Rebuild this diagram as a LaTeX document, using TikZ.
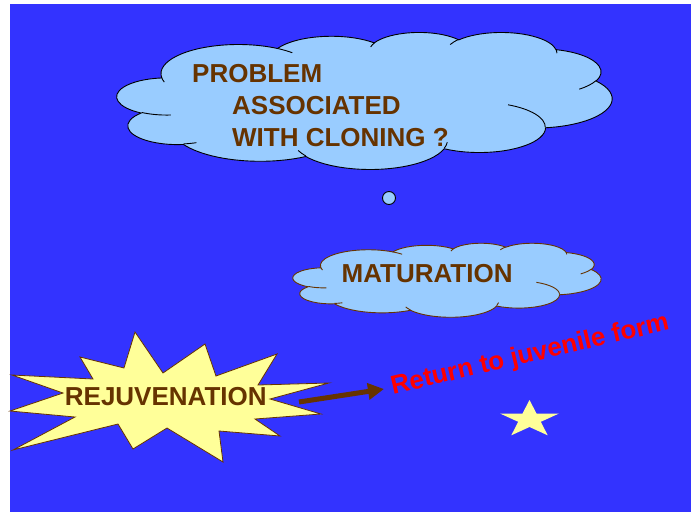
\documentclass[tikz,border=0pt]{standalone}
\usepackage{fontspec}
\setmainfont{Liberation Sans}
\usetikzlibrary{arrows.meta}

\definecolor{slideblue}{HTML}{3333FF}
\definecolor{cloudblue}{HTML}{99CCFF}
\definecolor{bark}{HTML}{663300}
\definecolor{paleyellow}{HTML}{FFFF99}

% one bump of a cloud: radii, start angle and sweep, angles taken to the point itself
\newcommand{\puff}[4]{%
  arc[x radius=#1,y radius=#2,start angle={pa(#3,#1,#2)},
      delta angle={mod(pa(#3+#4,#1,#2)-pa(#3,#1,#2)+720,360)}]}

% cloud outline on a 43.2 x 43.2 grid
\newcommand{\cloudoutline}{%
  (3.900,14.370) \puff{6.753}{9.190}{-190.4875}{123.7805}
  \puff{5.333}{7.267}{-144.1024}{89.9452}
  \puff{4.365}{5.945}{-145.8079}{99.7230}
  \puff{4.857}{6.595}{-130.9861}{117.2417}
  \puff{5.333}{7.273}{-78.7089}{109.0269}
  \puff{6.775}{9.220}{-46.2673}{130.2690}
  \puff{5.785}{7.867}{0.6250}{114.0333}
  \puff{6.752}{9.215}{22.4516}{115.1726}
  \puff{7.720}{10.543}{66.2426}{75.7110}
  \puff{4.360}{5.918}{-274.9421}{146.7356}
  \puff{4.345}{5.945}{-246.8285}{152.5189} -- cycle}

% the short creases inside the cloud
\newcommand{\cloudcreases}{%
  (4.693,26.177) \puff{4.345}{5.945}{86.742}{26.4295}
  (6.928,34.899) \puff{4.360}{5.918}{73.6105}{11.4475}
  (16.478,39.090) \puff{6.752}{9.215}{137.6242}{14.0811}
  (28.827,34.751) \puff{6.752}{9.215}{6.4533}{15.9984}
  (34.129,22.954) \puff{5.785}{7.867}{-70.2924}{70.9174}
  (41.798,15.354) \puff{5.333}{7.273}{30.3180}{27.7515}
  (38.324,5.426) \puff{4.857}{6.595}{-13.7443}{14.8589}
  (29.078,3.952) \puff{4.857}{6.595}{-149.1815}{18.1954}
  (22.141,4.720) \puff{4.365}{5.945}{-163.4943}{17.6864}
  (14.000,5.192) \puff{6.753}{9.190}{-66.7070}{12.3194}
  (4.127,15.789) \puff{6.753}{9.190}{157.6544}{11.8582}}

\begin{document}
\begin{tikzpicture}[x=1pt,y=-1pt,
  declare function={pa(\a,\rx,\ry)=atan2(\rx*sin(\a),\ry*cos(\a));},
  word/.style={font=\bfseries\fontsize{26}{31}\selectfont,text=bark,inner sep=0pt,anchor=base west},
  redword/.style={font=\bfseries\fontsize{26}{31}\selectfont,text=red,inner sep=0pt,anchor=base west},
  cloudedge/.style={draw=#1,line width=0.9pt}]
\useasboundingbox (0,0) rectangle (691,512);
\fill[slideblue] (10,4) rectangle (691,512);

% big thought cloud
\begin{scope}[shift={(117,32)},x=11.458pt,y=-3.171pt]
  \draw[cloudedge=black,fill=cloudblue] \cloudoutline;
  \draw[cloudedge=black] \cloudcreases;
\end{scope}
\node[word] (problem) at (192,82) {PROBLEM};
\node[word] (associated) at (232,114) {ASSOCIATED};
\node[word] (cloning) at (232,146) {WITH CLONING ?};

\draw[line width=0.9pt,fill=cloudblue] (389,198) circle (6.5);

% maturation cloud
\begin{scope}[shift={(293,243)},x=7.130pt,y=-1.713pt]
  \draw[cloudedge=bark,fill=cloudblue] \cloudoutline;
  \draw[cloudedge=bark] \cloudcreases;
\end{scope}
\node[word] (maturation) at (341.5,282) {MATURATION};

% burst
\draw[bark,fill=paleyellow,line width=0.8pt]
  (12,375) -- (93,379) -- (80,357) -- (124,368) -- (135,332) -- (163,373)
  -- (205,344) -- (216,376) -- (277,354) -- (258,385) -- (329,383)
  -- (270,399) -- (321,414) -- (255,419) -- (280,436) -- (219,431)
  -- (223,462) -- (167,428) -- (133,449) -- (118,424) -- (13,450)
  -- (75,417) -- (10,411) -- (63,393) -- cycle;
\node[word] (rejuvenation) at (64.7,405) {REJUVENATION};

\coordinate (tail) at (299,402);
\coordinate (tip) at (384,389);
\draw[bark,line width=5pt,-{Triangle[length=16pt,width=16pt]}] (tail) -- (tip);
\node[redword,rotate=13.2] (juvenile) at (393,394.5) {Return to juvenile form};

% star
\fill[paleyellow] (529.5,400) -- (536.5,413.5) -- (559,413.5) -- (540.8,421.8)
  -- (547.7,435.3) -- (529.5,427) -- (511.3,435.3) -- (518.2,421.8)
  -- (500,413.5) -- (522.5,413.5) -- cycle;
\end{tikzpicture}
\end{document}
